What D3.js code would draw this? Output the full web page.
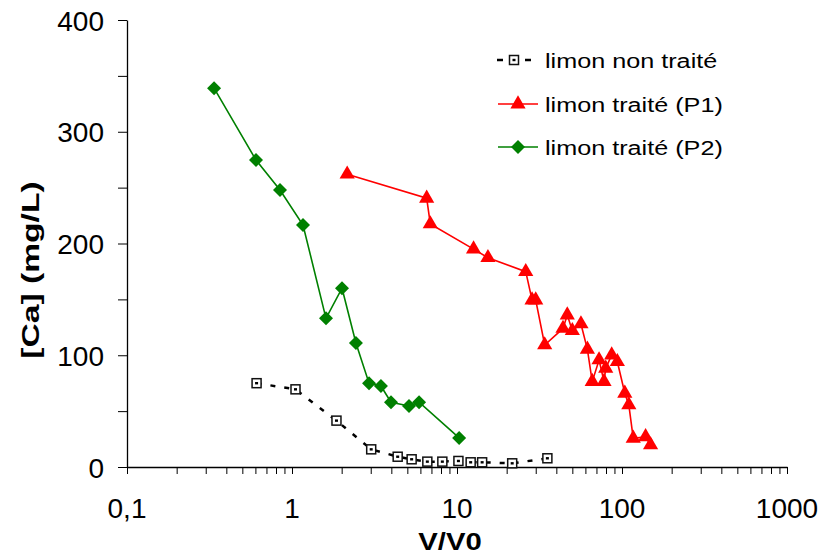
<!DOCTYPE html>
<html>
<head>
<meta charset="utf-8">
<script src="https://cdn.jsdelivr.net/npm/d3@7"></script>
<style>
  body { margin: 0; background: #fff; }
  text { font-family: "Liberation Sans", Arial, sans-serif; }
</style>
</head>
<body>
<script>
// taille de la figure
const w = 821;
const h = 555;

// limon non traité
const nonTraiteX = [0.61, 1.05, 1.86, 3.02, 4.37, 5.31, 6.61, 8.15, 10.2, 12.1, 14.2, 21.6, 35.3];
const nonTraiteY = [75, 69.5, 41.5, 15.8, 9.2, 6.9, 4.8, 4.8, 5.4, 4.2, 4.2, 3.3, 7.8];

// limon traité (P1)
const p1X = [2.16, 6.55, 6.89, 12.6, 15.4, 26.1, 28.5, 30, 34, 43.9, 46.6, 50, 56.4, 61.7, 66, 72.6, 77.8, 79.7, 86.6, 93.7, 104, 110, 117, 139, 149];
const p1Y = [262, 240.5, 217.5, 195, 187.3, 174.8, 149.4, 149.4, 109.2, 124, 136, 122, 128, 105.3, 76.4, 95.8, 76.4, 88.3, 100.2, 94.2, 66, 55.5, 25.7, 27, 19.7];

// limon traité (P2)
const p2X = [0.337, 0.605, 0.846, 1.166, 1.607, 2.01, 2.44, 2.93, 3.46, 3.98, 5.12, 5.89, 10.3];
const p2Y = [339, 274.7, 247.9, 216.6, 133, 160, 111, 75, 72.5, 58, 54.6, 58, 26];

// graduations
const xTicks = [0.1, 1, 10, 100, 1000];
const xTickLabels = ["0,1", "1", "10", "100", "1000"];
const yTicks = [0, 50, 100, 150, 200, 250, 300, 350, 400];

const legendLabels = ["limon non traité", "limon traité (P1)", "limon traité (P2)"];

const svg = d3.select("body").append("svg").attr("width", w).attr("height", h);

const x = d3.scaleLog().domain([0.1, 1000]).range([127, 787]);
const y = d3.scaleLinear().domain([0, 400]).range([467, 20]);

// axe Y
const yAxis = svg.append("g")
  .attr("transform", "translate(127,0)")
  .call(d3.axisLeft(y).tickValues(yTicks).tickSize(9).tickSizeOuter(0)
    .tickFormat((d) => (d % 100 === 0 ? d : "")));
yAxis.select(".domain").attr("stroke", "#000").attr("stroke-width", 1.3);
yAxis.selectAll(".tick line").attr("stroke", "#000").attr("stroke-width", 1);
yAxis.selectAll(".tick text")
  .attr("x", -23)
  .attr("dy", "0.36em")
  .attr("font-size", "28px")
  .attr("font-family", "'Liberation Sans', Arial, sans-serif")
  .attr("fill", "#000");

// axe X (log, graduations mineures)
const minor = [];
for (let p = -1; p < 3; p++) {
  for (let k = 1; k <= 9; k++) minor.push(k * Math.pow(10, p));
}
minor.push(1000);
const xAxis = svg.append("g")
  .attr("transform", "translate(0,467)")
  .call(d3.axisBottom(x).tickValues(minor).tickSize(7).tickSizeOuter(0)
    .tickFormat(() => ""));
xAxis.select(".domain").attr("stroke", "#000").attr("stroke-width", 1.3);
xAxis.selectAll(".tick line").attr("stroke", "#000").attr("stroke-width", 1);

svg.append("g")
  .selectAll("text")
  .data(xTicks)
  .enter()
  .append("text")
  .attr("x", (d) => x(d))
  .attr("y", 518)
  .attr("text-anchor", "middle")
  .attr("font-size", "28px")
  .text((d, i) => xTickLabels[i]);

// titres
svg.append("text")
  .attr("transform", "translate(450,550) scale(1.22,1)")
  .attr("text-anchor", "middle")
  .attr("font-size", "24px")
  .attr("font-weight", "bold")
  .text("V/V0");

svg.append("text")
  .attr("transform", "translate(39,270) rotate(-90) scale(1.4,1)")
  .attr("text-anchor", "middle")
  .attr("font-size", "24px")
  .attr("font-weight", "bold")
  .text("[Ca] (mg/L)");

const line = d3.line().x((d) => x(d[0])).y((d) => y(d[1]));

const nonTraite = nonTraiteX.map((v, i) => [v, nonTraiteY[i]]);
const p1 = p1X.map((v, i) => [v, p1Y[i]]);
const p2 = p2X.map((v, i) => [v, p2Y[i]]);

// courbes
svg.append("path").datum(nonTraite).attr("d", line)
  .attr("fill", "none").attr("stroke", "#000").attr("stroke-width", 2.5)
  .attr("stroke-dasharray", "5,9");
svg.append("path").datum(p1).attr("d", line)
  .attr("fill", "none").attr("stroke", "#ff0000").attr("stroke-width", 1.6);
svg.append("path").datum(p2).attr("d", line)
  .attr("fill", "none").attr("stroke", "#008000").attr("stroke-width", 1.6);

// marqueurs
const tri = d3.symbol().type(d3.symbolTriangle).size(100);
const diamond = "M0,-7L7,0L0,7L-7,0Z";

function squareMarker(g) {
  g.append("rect").attr("x", -4.5).attr("y", -4.5).attr("width", 9).attr("height", 9)
    .attr("fill", "#fff").attr("stroke", "#111").attr("stroke-width", 1.5);
  g.append("rect").attr("x", -1.5).attr("y", -1.2).attr("width", 3).attr("height", 2.4)
    .attr("fill", "#000");
}

svg.append("g").selectAll("g")
  .data(nonTraite).enter().append("g")
  .attr("transform", (d) => "translate(" + x(d[0]) + "," + y(d[1]) + ")")
  .each(function () { squareMarker(d3.select(this)); });

svg.append("g").selectAll("path")
  .data(p1).enter().append("path")
  .attr("d", tri)
  .attr("transform", (d) => "translate(" + x(d[0]) + "," + y(d[1]) + ")")
  .attr("fill", "#ff0000");

svg.append("g").selectAll("path")
  .data(p2).enter().append("path")
  .attr("d", diamond)
  .attr("transform", (d) => "translate(" + x(d[0]) + "," + y(d[1]) + ")")
  .attr("fill", "#008000");

// légende
const legY = [60, 104, 147];
const leg = svg.append("g");
leg.append("line").attr("x1", 497).attr("x2", 503).attr("y1", legY[0]).attr("y2", legY[0])
  .attr("stroke", "#000").attr("stroke-width", 2.5);
leg.append("line").attr("x1", 525).attr("x2", 531).attr("y1", legY[0]).attr("y2", legY[0])
  .attr("stroke", "#000").attr("stroke-width", 2.5);
squareMarker(leg.append("g").attr("transform", "translate(514," + legY[0] + ")"));

leg.append("line").attr("x1", 498).attr("x2", 538).attr("y1", legY[1]).attr("y2", legY[1])
  .attr("stroke", "#ff0000").attr("stroke-width", 1.6);
leg.append("path").attr("d", tri).attr("transform", "translate(518," + legY[1] + ")")
  .attr("fill", "#ff0000");

leg.append("line").attr("x1", 498).attr("x2", 538).attr("y1", legY[2]).attr("y2", legY[2])
  .attr("stroke", "#008000").attr("stroke-width", 1.6);
leg.append("path").attr("d", diamond).attr("transform", "translate(518," + legY[2] + ")")
  .attr("fill", "#008000");

leg.selectAll("text")
  .data(legendLabels)
  .enter()
  .append("text")
  .attr("transform", (d, i) => "translate(545," + (legY[i] + 7.5) + ") scale(1.2,1)")
  .attr("font-size", "21px")
  .text((d) => d);
</script>
</body>
</html>
